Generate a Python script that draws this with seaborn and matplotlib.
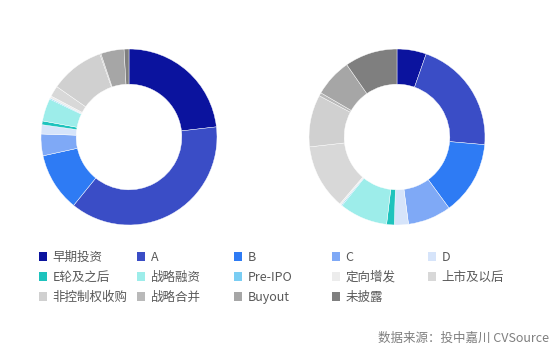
import matplotlib
matplotlib.use("Agg")
import matplotlib.pyplot as plt
from matplotlib.patches import Patch
import seaborn as sns

categories = ["早期投资", "A", "B", "C", "D", "E轮及之后", "战略融资", "Pre-IPO",
              "定向增发", "上市及以后", "非控制权收购", "战略合并", "Buyout", "未披露"]
left_values = [23.3, 37.9, 10.8, 4.0, 1.7, 0.7, 4.2, 0.2, 0.4, 2.0, 10.0, 0.2, 4.3, 0.9]
right_values = [5.4, 21.1, 13.6, 8.0, 2.6, 1.4, 8.9, 0.2, 0.3, 12.0, 9.6, 0.6, 7.0, 9.7]
colors = ["#0B139E", "#3A4DC6", "#2E7BF4", "#7FA9F6", "#D6E4FA", "#1EC3BD",
          "#9DEDEA", "#7ACDF3", "#ECECEC", "#D8D8D8", "#D0D0D0", "#B9B9B9",
          "#A6A6A6", "#7F7F7F"]
source_text = "数据来源：投中嘉川 CVSource"

sns.set_theme(style="white")
plt.rcParams["font.family"] = ["Noto Sans CJK SC", "DejaVu Sans"]
palette = sns.color_palette(colors)

fig = plt.figure(figsize=(5.58, 3.54), dpi=100)
fig.patch.set_facecolor("white")

W, H = 558.0, 354.0
R = 88.0
for cx, vals in [(129.0, left_values), (397.0, right_values)]:
    ax = fig.add_axes([(cx - R) / W, 1 - (137.0 + R) / H, 2 * R / W, 2 * R / H])
    ax.pie(vals, colors=palette, startangle=90, counterclock=False,
           radius=1.0, wedgeprops=dict(width=0.4, linewidth=0.3, edgecolor="white"))
    ax.set_xlim(-1, 1)
    ax.set_ylim(-1, 1)
    ax.set_aspect("equal")
    ax.axis("off")

# legend: 5 fixed-width columns, items laid out row by row
ncols = 5
col_x = [39, 137, 234, 332, 428]
row_y = [257.5, 277.5, 297.5]
for i, name in enumerate(categories):
    r, c = divmod(i, ncols)
    leg = fig.legend([Patch(facecolor=palette[i], edgecolor="none")], [name],
                     loc="center left",
                     bbox_to_anchor=(col_x[c] / W, 1 - row_y[r] / H), frameon=False,
                     fontsize=9, handlelength=0.65, handleheight=0.65,
                     handletextpad=0.45, borderaxespad=0, borderpad=0)
    for t in leg.get_texts():
        t.set_color("#595959")

fig.text(549 / W, 1 - 338 / H, source_text, ha="right", va="center",
         fontsize=9, color="#7F7F7F", style="italic")

fig.savefig("out.png", dpi=100, facecolor="white")
